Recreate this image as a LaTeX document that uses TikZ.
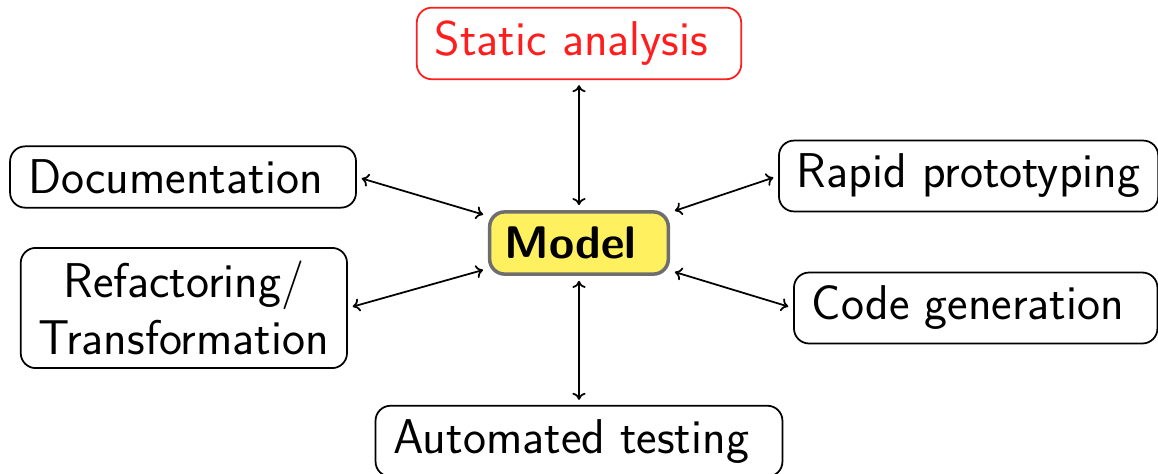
\documentclass[tikz,border=0pt]{standalone}
\usepackage{tikz}
\usetikzlibrary{positioning}
\usetikzlibrary{arrows.meta}

\definecolor{modelyellow}{RGB}{255,240,95}
\definecolor{modelgray}{RGB}{110,110,110}
\definecolor{staticred}{RGB}{255,30,30}

\begin{document}
\begin{tikzpicture}[
        font=\sffamily\fontsize{27.8}{32}\selectfont,
        use/.style={draw, rounded corners=0.3cm, line width=1pt, inner xsep=0.36cm, inner ysep=0.27cm, align=center},
        model/.style={use, fill=modelyellow, draw=modelgray, line width=2pt, inner xsep=0.3cm, inner ysep=0.3cm, font=\sffamily\bfseries\fontsize{26}{32}\selectfont},
        link/.style={{To[length=4pt,width=7.5pt]}-{To[length=4pt,width=7.5pt]}, line width=1pt, shorten <=0.1cm, shorten >=0.1cm}]
        \useasboundingbox (-11.58,-4.60) rectangle (11.58,4.86);

        \node[model] (model) at (0,0) {Model\ };
        \node[use, draw=staticred, text=staticred, above=2.6cm of model] (static) {Static analysis\ };
        \node[use, below=2.58cm of model] (testing) {Automated testing\ };

        \node[use, left=2.62cm of model, yshift=1.32cm] (doc) {Documentation\ };
        \node[use, left=2.8cm of model, yshift=-1.3cm] (refactor) {Refactoring/\\Transformation};
        \node[use, right=2.16cm of model, yshift=1.34cm] (proto) {Rapid prototyping};
        \node[use, right=2.46cm of model, yshift=-1.3cm] (codegen) {Code generation\ };

        % every use is linked both ways to the model
        \draw[link] (static) -- (model);
        \draw[link] (model) -- (testing);
        \draw[link] (doc.east) -- (model);
        \draw[link] (refactor.east) -- (model);
        \draw[link] (proto.west) -- (model);
        \draw[link] (codegen.west) -- (model);
    \end{tikzpicture}
\end{document}
